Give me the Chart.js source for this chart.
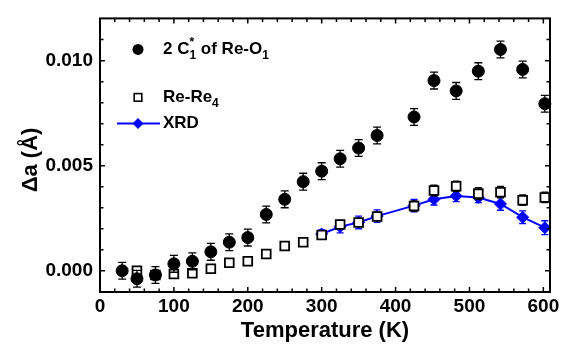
<!DOCTYPE html>
<html lang="en">
<head>
  <meta charset="UTF-8" />
  <title>Δa vs Temperature</title>
  <script src="https://cdn.jsdelivr.net/npm/chart.js"></script>
  <style>
    html, body { margin: 0; padding: 0; background: #fff; }
    canvas { display: block; }
  </style>
</head>
<body>
<canvas id="chartDa" width="569" height="346"></canvas>
<script>
  // 2 C1* of Re-O1 (filled circles)
  const tempReO = [30, 50, 75, 100, 125, 150, 175, 200, 225, 250, 275, 300, 325, 350, 375, 425, 452, 482, 512, 542, 572, 602];
  const daReO   = [0.0000, -0.00038, -0.0002, 0.00033, 0.00045, 0.0009, 0.00136, 0.00158, 0.00268, 0.0034, 0.00424,
                   0.00474, 0.00533, 0.00584, 0.00644, 0.00732, 0.00905, 0.00856, 0.0095, 0.01053, 0.00958, 0.00795];
  const errReO  = [0.0004, 0.0004, 0.0004, 0.0004, 0.0004, 0.0004, 0.0004, 0.0004, 0.0004, 0.0004, 0.0004,
                   0.0004, 0.0004, 0.0004, 0.0004, 0.0004, 0.0004, 0.0004, 0.0004, 0.0004, 0.0004, 0.0004];

  // Re-Re4 (open squares)
  const tempReRe = [50, 75, 100, 125, 150, 175, 200, 225, 250, 275, 300, 325, 350, 375, 425, 452, 482, 512, 542, 572, 602];
  const daReRe   = [0.0000, -0.0002, -0.00015, -0.00012, 0.0001, 0.00038, 0.00045, 0.0008, 0.00118, 0.00136, 0.0017,
                    0.0022, 0.0023, 0.00258, 0.00308, 0.00382, 0.00402, 0.00367, 0.00374, 0.00336, 0.00349];
  const errReRe  = [0.0001, 0.0001, 0.0001, 0.0001, 0.0001, 0.0001, 0.0001, 0.0001, 0.0001, 0.0001, 0.0001,
                    0.0001, 0.0001, 0.0001, 0.00025, 0.00025, 0.00025, 0.00028, 0.00027, 0.00025, 0.00025];

  // XRD (blue diamonds + line)
  const tempXrd = [300, 325, 350, 375, 425, 452, 482, 512, 542, 572, 602];
  const daXrd   = [0.00175, 0.0021, 0.0023, 0.0026, 0.0031, 0.0034, 0.00356, 0.00349, 0.00318, 0.00255, 0.00205];
  const errXrd  = [0.0002, 0.0003, 0.0003, 0.0003, 0.0003, 0.00027, 0.00027, 0.00025, 0.0003, 0.0003, 0.00033];

  const xTickValues = [0, 100, 200, 300, 400, 500, 600];
  const yTickValues = [0, 0.005, 0.010];

  const FONT = 'Arial, "Liberation Sans", sans-serif';
  const BLUE = '#0000ff';
  Chart.defaults.font.family = FONT;
  Chart.defaults.color = '#000';

  const toPoints = (xs, ys) => xs.map((x, i) => ({ x, y: ys[i] }));

  // vertical error bars, drawn under each dataset's own markers
  const errorBars = {
    id: 'errorBars',
    beforeDatasetDraw(chart, args) {
      const ds = chart.data.datasets[args.index];
      if (!ds.errors) return;
      const { ctx, scales: { x, y } } = chart;
      const c = ds.capWidth / 2;
      ctx.save();
      ctx.strokeStyle = ds.errorColor;
      ctx.lineWidth = 1.3;
      ds.data.forEach((p, i) => {
        const px = x.getPixelForValue(p.x);
        const hi = y.getPixelForValue(p.y + ds.errors[i]);
        const lo = y.getPixelForValue(p.y - ds.errors[i]);
        ctx.beginPath();
        ctx.moveTo(px, hi); ctx.lineTo(px, lo);
        ctx.moveTo(px - c, hi); ctx.lineTo(px + c, hi);
        ctx.moveTo(px - c, lo); ctx.lineTo(px + c, lo);
        ctx.stroke();
      });
      ctx.restore();
    }
  };

  // box, inward ticks on all four sides, y title, legend
  const frame = {
    id: 'frame',
    afterDraw(chart) {
      const { ctx, chartArea: a, scales: { x, y } } = chart;
      ctx.save();
      ctx.strokeStyle = '#000';
      ctx.lineWidth = 1.5;
      const xt = [];
      for (let v = 20; v <= 600; v += 20) xt.push({ v, major: v % 100 === 0 });
      const yt = [];
      for (let k = -1; k <= 12; k++) yt.push({ v: k / 1000, major: k % 5 === 0 });
      ctx.beginPath();
      xt.forEach(t => {
        const px = x.getPixelForValue(t.v);
        const len = t.major ? 5 : 3.5;
        ctx.moveTo(px, a.bottom); ctx.lineTo(px, a.bottom - len);
        ctx.moveTo(px, a.top); ctx.lineTo(px, a.top + len);
      });
      yt.forEach(t => {
        const py = y.getPixelForValue(t.v);
        if (py > a.bottom - 1 || py < a.top + 1) return;
        const len = t.major ? 5 : 3.5;
        ctx.moveTo(a.left, py); ctx.lineTo(a.left + len, py);
        ctx.moveTo(a.right, py); ctx.lineTo(a.right - len, py);
      });
      ctx.stroke();
      ctx.lineWidth = 2;
      ctx.strokeRect(a.left, a.top, a.right - a.left, a.bottom - a.top);

      // y axis title
      ctx.fillStyle = '#000';
      ctx.save();
      ctx.translate(31, 160);
      ctx.rotate(-Math.PI / 2);
      ctx.font = 'bold 22px ' + FONT;
      ctx.textAlign = 'center';
      ctx.textBaseline = 'middle';
      ctx.fillText('Δa (Å)', 0, 0);
      ctx.restore();

      // legend
      const mx = a.left + 38, tx = a.left + 63;
      const rows = [a.top + 31, a.top + 79, a.top + 105];
      const big = 'bold 17px ' + FONT, small = 'bold 12px ' + FONT;
      ctx.textBaseline = 'middle';
      ctx.textAlign = 'left';
      const write = (parts, yy) => {
        let cx = tx;
        parts.forEach(([s, kind]) => {
          ctx.font = kind === 'n' ? big : small;
          const dy = kind === 'sub' ? 6 : kind === 'sup' ? -7 : 0;
          ctx.fillText(s, cx, yy + dy);
          if (kind !== 'sup') cx += ctx.measureText(s).width;
        });
      };
      // circle
      ctx.beginPath();
      ctx.arc(mx, rows[0], 5.5, 0, Math.PI * 2);
      ctx.fill();
      write([['2 C', 'n'], ['*', 'sup'], ['1', 'sub'], [' of Re-O', 'n'], ['1', 'sub']], rows[0]);
      // square
      ctx.lineWidth = 1.6;
      ctx.strokeRect(mx - 3.8, rows[1] - 3.8, 7.6, 7.6);
      write([['Re-Re', 'n'], ['4', 'sub']], rows[1]);
      // XRD line + diamond
      ctx.strokeStyle = BLUE;
      ctx.fillStyle = BLUE;
      ctx.lineWidth = 2;
      ctx.beginPath();
      ctx.moveTo(mx - 21, rows[2]); ctx.lineTo(mx + 22, rows[2]);
      ctx.stroke();
      ctx.beginPath();
      ctx.moveTo(mx, rows[2] - 5.5); ctx.lineTo(mx + 5.5, rows[2]);
      ctx.lineTo(mx, rows[2] + 5.5); ctx.lineTo(mx - 5.5, rows[2]);
      ctx.closePath();
      ctx.fill();
      ctx.fillStyle = '#000';
      write([['XRD', 'n']], rows[2]);
      ctx.restore();
    }
  };

  new Chart(document.getElementById('chartDa'), {
    type: 'scatter',
    data: {
      datasets: [
        {
          label: '2 C1* of Re-O1',
          data: toPoints(tempReO, daReO),
          errors: errReO, errorColor: '#000', capWidth: 8,
          pointStyle: 'circle', pointRadius: 6,
          backgroundColor: '#000', borderColor: '#000', pointBorderWidth: 1,
          clip: false
        },
        {
          label: 'Re-Re4',
          data: toPoints(tempReRe, daReRe),
          errors: errReRe, errorColor: '#000', capWidth: 7,
          pointStyle: 'rect', pointRadius: 6.2,
          backgroundColor: '#fff', borderColor: '#000', pointBorderWidth: 1.8,
          clip: false
        },
        {
          label: 'XRD',
          data: toPoints(tempXrd, daXrd),
          errors: errXrd, errorColor: BLUE, capWidth: 7,
          showLine: true, borderWidth: 2, tension: 0,
          pointStyle: 'rectRot', pointRadius: 6,
          backgroundColor: BLUE, borderColor: BLUE, pointBorderWidth: 1,
          clip: false
        }
      ]
    },
    options: {
      responsive: false,
      animation: false,
      layout: { padding: { top: 6, right: 19, left: 0, bottom: 0 } },
      plugins: {
        legend: { display: false },
        tooltip: { enabled: false }
      },
      scales: {
        x: {
          type: 'linear',
          min: 0,
          max: 609,
          afterBuildTicks: s => { s.ticks = xTickValues.map(v => ({ value: v })); },
          afterFit: s => { s.height = 54; },
          grid: { display: false, drawTicks: false },
          border: { display: false },
          ticks: { font: { size: 19, weight: 'bold' }, color: '#000', padding: 3, maxRotation: 0, autoSkip: false },
          title: { display: true, text: 'Temperature (K)', font: { size: 22, weight: 'bold' }, color: '#000', padding: { top: 0, bottom: 2 } }
        },
        y: {
          type: 'linear',
          min: -0.00101,
          max: 0.01201,
          afterBuildTicks: s => { s.ticks = yTickValues.map(v => ({ value: v })); },
          afterFit: s => { s.width = 100; },
          grid: { display: false, drawTicks: false },
          border: { display: false },
          ticks: { font: { size: 19, weight: 'bold' }, color: '#000', padding: 7, callback: v => v.toFixed(3) }
        }
      }
    },
    plugins: [errorBars, frame]
  });
</script>
</body>
</html>
